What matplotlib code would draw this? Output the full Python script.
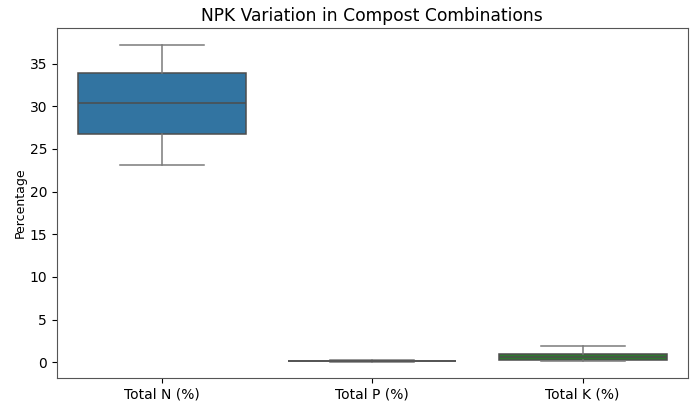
import matplotlib
matplotlib.use("Agg")
import matplotlib.pyplot as plt

categories = ["Total N (%)", "Total P (%)", "Total K (%)"]
whisker_low = [23.1, 0.03, 0.08]
q1 = [26.8, 0.08, 0.20]
median = [30.4, 0.12, 0.55]
q3 = [33.9, 0.16, 0.95]
whisker_high = [37.2, 0.25, 1.88]
colors = ["#3274a1", "#e1812c", "#2e7a2e"]

stats = []
for i, c in enumerate(categories):
    stats.append(dict(label=c, whislo=whisker_low[i], q1=q1[i], med=median[i],
                      q3=q3[i], whishi=whisker_high[i], fliers=[]))

fig = plt.figure(figsize=(6.92, 4.03), dpi=100)
ax = fig.add_axes([0.082, 0.062, 0.912, 0.868])
line_c = "#4d4d4d"
bp = ax.bxp(stats, positions=range(len(categories)), widths=0.8, patch_artist=True,
            showfliers=False,
            boxprops=dict(edgecolor=line_c, linewidth=1.1),
            medianprops=dict(color=line_c, linewidth=1.1),
            whiskerprops=dict(color="#7a7a7a", linewidth=1.1),
            capprops=dict(color="#7a7a7a", linewidth=1.1),
            capwidths=0.4)
for patch, col in zip(bp["boxes"], colors):
    patch.set_facecolor(col)

ax.set_xlim(-0.5, 2.5)
ax.set_ylim(-1.86, 39.15)
ax.set_xticks(range(len(categories)))
ax.set_xticklabels(categories, fontsize=10)
ax.set_yticks([0, 5, 10, 15, 20, 25, 30, 35])
ax.tick_params(axis="y", labelsize=10)
ax.set_ylabel("Percentage", fontsize=9, labelpad=2)
ax.set_title("NPK Variation in Compost Combinations", fontsize=12.3, pad=5)
for s in ax.spines.values():
    s.set_color("#555555")
fig.savefig("out.png", dpi=100)
